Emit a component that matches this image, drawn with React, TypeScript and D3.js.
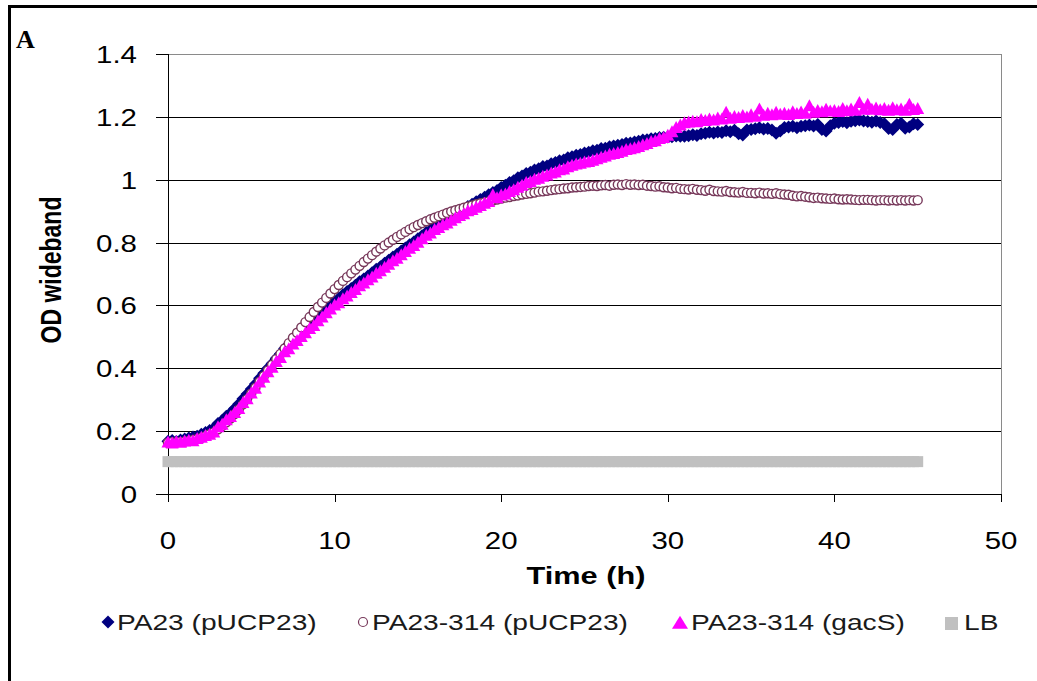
import React from 'react';
import * as d3 from 'd3';

// ---- data (OD wideband read every 0.25 h, 0 .. 45 h) ----
const SAMPLE_STEP_H = 0.25;
const X_TICKS = [0, 10, 20, 30, 40, 50];
const Y_TICKS = [0, 0.2, 0.4, 0.6, 0.8, 1, 1.2, 1.4];
const Y_TICK_LABELS = ['0', '0.2', '0.4', '0.6', '0.8', '1', '1.2', '1.4'];
const SERIES_NAMES = ['PA23 (pUCP23)', 'PA23-314 (pUCP23)', 'PA23-314 (gacS)', 'LB'];

const pa23 = [
  0.168, 0.170, 0.167, 0.172, 0.175, 0.178, 0.181, 0.184, 0.190, 0.196, 0.202, 0.209,
  0.224, 0.234, 0.247, 0.258, 0.272, 0.286, 0.303, 0.318, 0.334, 0.350, 0.368, 0.384,
  0.400, 0.415, 0.432, 0.446, 0.463, 0.474, 0.489, 0.501, 0.514, 0.526, 0.539, 0.550,
  0.564, 0.576, 0.589, 0.601, 0.613, 0.622, 0.634, 0.644, 0.654, 0.664, 0.675, 0.684,
  0.694, 0.704, 0.715, 0.723, 0.734, 0.744, 0.754, 0.763, 0.773, 0.783, 0.793, 0.802,
  0.812, 0.822, 0.832, 0.840, 0.850, 0.857, 0.865, 0.872, 0.880, 0.888, 0.895, 0.901,
  0.915, 0.922, 0.930, 0.937, 0.944, 0.952, 0.959, 0.966, 0.975, 0.982, 0.991, 0.997,
  1.006, 1.012, 1.020, 1.024, 1.031, 1.035, 1.042, 1.044, 1.051, 1.055, 1.060, 1.063,
  1.070, 1.073, 1.078, 1.080, 1.085, 1.087, 1.092, 1.094, 1.099, 1.100, 1.105, 1.107,
  1.110, 1.112, 1.116, 1.117, 1.120, 1.122, 1.126, 1.127, 1.130, 1.131, 1.134, 1.135,
  1.136, 1.137, 1.139, 1.138, 1.138, 1.140, 1.143, 1.141, 1.146, 1.148, 1.151, 1.149,
  1.152, 1.150, 1.156, 1.153, 1.157, 1.146, 1.142, 1.158, 1.160, 1.162, 1.165, 1.161,
  1.163, 1.158, 1.148, 1.155, 1.166, 1.168, 1.170, 1.165, 1.170, 1.172, 1.174, 1.171,
  1.176, 1.160, 1.155, 1.172, 1.180, 1.182, 1.185, 1.181, 1.186, 1.188, 1.190, 1.187,
  1.185, 1.183, 1.187, 1.182, 1.178, 1.163, 1.160, 1.176, 1.180, 1.164, 1.168, 1.178,
  1.176,
];

const pa23_314 = [
  0.163, 0.165, 0.164, 0.166, 0.167, 0.169, 0.172, 0.175, 0.179, 0.184, 0.190, 0.196,
  0.206, 0.216, 0.228, 0.240, 0.254, 0.269, 0.285, 0.302, 0.320, 0.338, 0.357, 0.375,
  0.393, 0.411, 0.429, 0.446, 0.463, 0.480, 0.497, 0.513, 0.530, 0.547, 0.563, 0.579,
  0.595, 0.609, 0.624, 0.638, 0.652, 0.665, 0.678, 0.690, 0.702, 0.714, 0.726, 0.738,
  0.749, 0.760, 0.771, 0.781, 0.791, 0.800, 0.809, 0.818, 0.826, 0.834, 0.842, 0.849,
  0.856, 0.862, 0.868, 0.874, 0.879, 0.884, 0.889, 0.894, 0.899, 0.903, 0.907, 0.911,
  0.915, 0.918, 0.922, 0.925, 0.928, 0.931, 0.934, 0.937, 0.940, 0.943, 0.945, 0.948,
  0.950, 0.953, 0.955, 0.957, 0.959, 0.962, 0.963, 0.965, 0.967, 0.969, 0.970, 0.972,
  0.973, 0.975, 0.976, 0.977, 0.978, 0.980, 0.981, 0.980, 0.982, 0.983, 0.981, 0.984,
  0.985, 0.983, 0.986, 0.984, 0.985, 0.983, 0.984, 0.981, 0.980, 0.978, 0.979, 0.976,
  0.975, 0.973, 0.974, 0.971, 0.970, 0.969, 0.971, 0.968, 0.967, 0.965, 0.968, 0.964,
  0.963, 0.962, 0.964, 0.961, 0.960, 0.959, 0.961, 0.958, 0.958, 0.957, 0.959, 0.956,
  0.957, 0.955, 0.957, 0.954, 0.953, 0.952, 0.949, 0.947, 0.948, 0.946, 0.944, 0.942,
  0.943, 0.941, 0.940, 0.939, 0.940, 0.938, 0.937, 0.938, 0.937, 0.936, 0.935, 0.936,
  0.936, 0.935, 0.934, 0.935, 0.935, 0.934, 0.935, 0.934, 0.935, 0.934, 0.935, 0.934,
  0.935,
];

const gacS = [
  0.165, 0.162, 0.167, 0.164, 0.168, 0.171, 0.169, 0.176, 0.180, 0.186, 0.190, 0.197,
  0.214, 0.222, 0.236, 0.246, 0.259, 0.272, 0.291, 0.303, 0.321, 0.336, 0.356, 0.371,
  0.389, 0.403, 0.421, 0.434, 0.452, 0.462, 0.477, 0.488, 0.501, 0.513, 0.526, 0.536,
  0.551, 0.563, 0.576, 0.588, 0.601, 0.608, 0.621, 0.630, 0.641, 0.650, 0.662, 0.671,
  0.681, 0.690, 0.702, 0.710, 0.721, 0.731, 0.742, 0.750, 0.761, 0.771, 0.782, 0.790,
  0.801, 0.812, 0.823, 0.830, 0.841, 0.848, 0.856, 0.862, 0.871, 0.879, 0.886, 0.891,
  0.901, 0.905, 0.912, 0.918, 0.925, 0.930, 0.952, 0.942, 0.951, 0.954, 0.962, 0.968,
  0.976, 0.982, 0.991, 0.994, 1.001, 1.004, 1.011, 1.015, 1.021, 1.024, 1.031, 1.034,
  1.041, 1.046, 1.050, 1.052, 1.056, 1.058, 1.062, 1.066, 1.071, 1.075, 1.081, 1.083,
  1.086, 1.090, 1.096, 1.098, 1.101, 1.105, 1.111, 1.115, 1.121, 1.124, 1.131, 1.134,
  1.141, 1.152, 1.166, 1.174, 1.181, 1.183, 1.186, 1.184, 1.191, 1.188, 1.193, 1.190,
  1.196, 1.193, 1.214, 1.195, 1.201, 1.198, 1.204, 1.199, 1.206, 1.202, 1.225, 1.205,
  1.211, 1.206, 1.214, 1.208, 1.211, 1.207, 1.216, 1.210, 1.215, 1.211, 1.235, 1.214,
  1.220, 1.216, 1.224, 1.218, 1.220, 1.217, 1.226, 1.219, 1.225, 1.221, 1.245, 1.224,
  1.240, 1.224, 1.228, 1.222, 1.226, 1.221, 1.229, 1.222, 1.225, 1.221, 1.240, 1.223,
  1.226,
];

const lb = [
  0.103, 0.103, 0.103, 0.103, 0.103, 0.103, 0.103, 0.103, 0.103, 0.103, 0.103, 0.103,
  0.103, 0.103, 0.103, 0.103, 0.103, 0.103, 0.103, 0.103, 0.103, 0.103, 0.103, 0.103,
  0.103, 0.103, 0.103, 0.103, 0.103, 0.103, 0.103, 0.103, 0.103, 0.103, 0.103, 0.103,
  0.103, 0.103, 0.103, 0.103, 0.103, 0.103, 0.103, 0.103, 0.103, 0.103, 0.103, 0.103,
  0.103, 0.103, 0.103, 0.103, 0.103, 0.103, 0.103, 0.103, 0.103, 0.103, 0.103, 0.103,
  0.103, 0.103, 0.103, 0.103, 0.103, 0.103, 0.103, 0.103, 0.103, 0.103, 0.103, 0.103,
  0.103, 0.103, 0.103, 0.103, 0.103, 0.103, 0.103, 0.103, 0.103, 0.103, 0.103, 0.103,
  0.103, 0.103, 0.103, 0.103, 0.103, 0.103, 0.103, 0.103, 0.103, 0.103, 0.103, 0.103,
  0.103, 0.103, 0.103, 0.103, 0.103, 0.103, 0.103, 0.103, 0.103, 0.103, 0.103, 0.103,
  0.103, 0.103, 0.103, 0.103, 0.103, 0.103, 0.103, 0.103, 0.103, 0.103, 0.103, 0.103,
  0.103, 0.103, 0.103, 0.103, 0.103, 0.103, 0.103, 0.103, 0.103, 0.103, 0.103, 0.103,
  0.103, 0.103, 0.103, 0.103, 0.103, 0.103, 0.103, 0.103, 0.103, 0.103, 0.103, 0.103,
  0.103, 0.103, 0.103, 0.103, 0.103, 0.103, 0.103, 0.103, 0.103, 0.103, 0.103, 0.103,
  0.103, 0.103, 0.103, 0.103, 0.103, 0.103, 0.103, 0.103, 0.103, 0.103, 0.103, 0.103,
  0.103, 0.103, 0.103, 0.103, 0.103, 0.103, 0.103, 0.103, 0.103, 0.103, 0.103, 0.103,
  0.103,
];

// ---- styling ----
const FONT = "'Liberation Sans', Arial, sans-serif";
const SX = 1.28; // horizontal glyph stretch seen in the reference
const NAVY = '#000080';
const MAGENTA = '#ff00ff';
const CIRCLE_STROKE = '#77385a';
const LB_GRAY = '#c0c0c0';

const diamond = (r: number) => `M0,${-r}L${r},0L0,${r}L${-r},0Z`;
const triangle = (w: number, h: number) => `M0,${-h * 0.55}L${w / 2},${h * 0.45}L${-w / 2},${h * 0.45}Z`;

export default function App() {
  const W = 1037;
  const H = 681;
  const x = d3.scaleLinear().domain([0, 50]).range([168, 1001]);
  const y = d3.scaleLinear().domain([0, 1.4]).range([494, 54]);
  const tOf = (i: number) => i * SAMPLE_STEP_H;
  const [x0, x1] = x.range();

  return (
    <svg width={W} height={H} style={{ position: 'absolute', left: 0, top: 0, background: '#fff' }}>
      <rect x={0} y={0} width={W} height={H} fill="#fff" />
      {/* outer frame */}
      <rect x={9.5} y={6.5} width={1200} height={900} fill="none" stroke="#000" strokeWidth={3} />
      <text x={16} y={48} fontFamily="'Liberation Serif', 'Times New Roman', serif" fontWeight="bold" fontSize={26}>A</text>

      {/* gridlines */}
      {Y_TICKS.filter((v) => v > 0 && v < 1.4).map((v) => (
        <line key={'g' + v} x1={x0} x2={x1} y1={Math.round(y(v)) + 0.5} y2={Math.round(y(v)) + 0.5} stroke="#000" strokeWidth={1} />
      ))}
      {/* plot frame top/right */}
      <line x1={x0} x2={x1 + 0.5} y1={Math.round(y(1.4)) + 0.5} y2={Math.round(y(1.4)) + 0.5} stroke="#8a8a8a" />
      <line x1={x1 + 0.5} x2={x1 + 0.5} y1={y(1.4)} y2={y(0)} stroke="#8a8a8a" />

      {/* axes */}
      <line x1={x0 + 0.5} x2={x0 + 0.5} y1={y(1.4)} y2={y(0) + 1} stroke="#000" />
      <line x1={x0 - 12} x2={x1} y1={Math.round(y(0)) + 0.5} y2={Math.round(y(0)) + 0.5} stroke="#000" />
      {Y_TICKS.map((v) => (
        <line key={'yt' + v} x1={x0 - 12} x2={x0} y1={Math.round(y(v)) + 0.5} y2={Math.round(y(v)) + 0.5} stroke="#000" />
      ))}
      {X_TICKS.map((v) => (
        <line key={'xt' + v} x1={Math.round(x(v)) + 0.5} x2={Math.round(x(v)) + 0.5} y1={y(0)} y2={y(0) + 8} stroke="#000" />
      ))}

      {/* tick labels */}
      {Y_TICKS.map((v, i) => (
        <text key={'yl' + v} transform={`translate(137,${y(v) + 9}) scale(${SX},1)`} textAnchor="end"
          fontFamily={FONT} fontSize={23} fill="#000">{Y_TICK_LABELS[i]}</text>
      ))}
      {X_TICKS.map((v) => (
        <text key={'xl' + v} transform={`translate(${x(v)},549) scale(${SX},1)`} textAnchor="middle"
          fontFamily={FONT} fontSize={23} fill="#000">{String(v)}</text>
      ))}

      {/* axis titles */}
      <text transform={`translate(586,584) scale(${SX},1)`} textAnchor="middle" fontFamily={FONT}
        fontWeight="bold" fontSize={24}>Time (h)</text>
      <text transform={`translate(61,270) scale(${SX},1) rotate(-90)`} textAnchor="middle" fontFamily={FONT}
        fontWeight="bold" fontSize={23}>OD wideband</text>

      {/* series */}
      <g>
        {pa23.map((v, i) => (
          <path key={'a' + i} d={diamond(6.5)} transform={`translate(${x(tOf(i))},${y(v)})`} fill={NAVY} />
        ))}
      </g>
      <g>
        {pa23_314.map((v, i) => (
          <circle key={'b' + i} cx={x(tOf(i))} cy={y(v)} r={4.5} fill="#fff" stroke={CIRCLE_STROKE} strokeWidth={1.4} />
        ))}
      </g>
      <g>
        {gacS.map((v, i) => (
          <path key={'c' + i} d={triangle(13, 12)} transform={`translate(${x(tOf(i))},${y(v)})`} fill={MAGENTA} />
        ))}
      </g>
      <g>
        {lb.map((v, i) => (
          <rect key={'d' + i} x={x(tOf(i)) - 5.5} y={y(v) - 5.5} width={11} height={11} fill={LB_GRAY} />
        ))}
      </g>

      {/* legend */}
      <g fontFamily={FONT} fontSize={22} fill="#1a1a1a">
        <path d={diamond(6.5)} transform="translate(108,622)" fill={NAVY} />
        <text transform={`translate(117,630) scale(${SX},1)`}>{SERIES_NAMES[0]}</text>
        <circle cx={363} cy={622} r={4.5} fill="#fff" stroke={CIRCLE_STROKE} strokeWidth={1.2} />
        <text transform={`translate(372,630) scale(${SX},1)`}>{SERIES_NAMES[1]}</text>
        <path d={triangle(16, 13)} transform="translate(680,623)" fill={MAGENTA} />
        <text transform={`translate(691,630) scale(${SX},1)`}>{SERIES_NAMES[2]}</text>
        <rect x={945} y={617} width={13} height={13} fill={LB_GRAY} />
        <text transform={`translate(964,630) scale(${SX},1)`}>{SERIES_NAMES[3]}</text>
      </g>
    </svg>
  );
}
